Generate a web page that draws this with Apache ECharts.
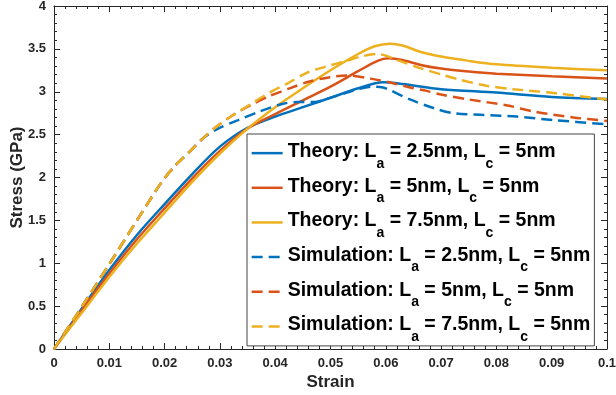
<!DOCTYPE html>
<html>
<head>
<meta charset="utf-8">
<script src="https://cdn.jsdelivr.net/npm/echarts@6/dist/echarts.min.js"></script>
<style>
  html, body { margin: 0; padding: 0; background: #ffffff; }
  #chart { width: 616px; height: 395px; }
</style>
</head>
<body>
<div id="chart"></div>
<script>
// Stress-strain curves: analytical theory (solid) vs. MD simulation (dashed)
const strainT1 = [0, 0.005, 0.01, 0.015, 0.02, 0.025, 0.03, 0.035, 0.04, 0.045, 0.05, 0.055, 0.0595, 0.063, 0.07, 0.08, 0.09, 0.1];
const stressT1 = [0, 0.47, 0.92, 1.33, 1.69, 2.04, 2.36, 2.58, 2.71, 2.82, 2.93, 3.04, 3.11, 3.09, 3.03, 2.99, 2.94, 2.915];

const strainT2 = [0, 0.005, 0.01, 0.015, 0.02, 0.025, 0.03, 0.035, 0.04, 0.045, 0.05, 0.055, 0.0585, 0.0605, 0.063, 0.0665, 0.07, 0.075, 0.08, 0.09, 0.1];
const stressT2 = [0, 0.45, 0.88, 1.28, 1.64, 1.99, 2.31, 2.57, 2.74, 2.90, 3.06, 3.24, 3.36, 3.39, 3.37, 3.31, 3.27, 3.235, 3.21, 3.18, 3.155];

const strainT3 = [0, 0.005, 0.01, 0.015, 0.02, 0.025, 0.03, 0.035, 0.04, 0.045, 0.05, 0.055, 0.058, 0.0607, 0.063, 0.0665, 0.07, 0.075, 0.08, 0.09, 0.1];
const stressT3 = [0, 0.42, 0.84, 1.23, 1.59, 1.95, 2.28, 2.57, 2.82, 3.04, 3.25, 3.44, 3.53, 3.56, 3.54, 3.46, 3.41, 3.36, 3.32, 3.28, 3.25];

const strainS1 = [0, 0.005, 0.01, 0.015, 0.0194, 0.0218, 0.0245, 0.027, 0.0297, 0.0333, 0.0372, 0.0414, 0.044, 0.047, 0.0505, 0.0535, 0.0574, 0.0595, 0.0607, 0.0644, 0.0686, 0.0722, 0.0777, 0.0837, 0.0903, 0.1];
const stressS1 = [0, 0.49, 0.99, 1.5, 1.94, 2.13, 2.30, 2.46, 2.57, 2.67, 2.77, 2.86, 2.88, 2.88, 2.94, 3.0, 3.06, 3.05, 3.02, 2.91, 2.81, 2.75, 2.73, 2.71, 2.67, 2.62];

const strainS2 = [0, 0.005, 0.01, 0.015, 0.0194, 0.0218, 0.0245, 0.027, 0.0297, 0.0327, 0.0357, 0.039, 0.0426, 0.0462, 0.0499, 0.053, 0.0575, 0.0613, 0.0644, 0.0674, 0.0698, 0.075, 0.082, 0.0867, 0.0939, 0.1];
const stressS2 = [0, 0.49, 0.99, 1.5, 1.94, 2.13, 2.30, 2.46, 2.61, 2.74, 2.85, 2.95, 3.04, 3.12, 3.17, 3.19, 3.15, 3.10, 3.05, 3.01, 2.97, 2.91, 2.84, 2.77, 2.70, 2.66];

const strainS3 = [0, 0.005, 0.01, 0.015, 0.0194, 0.0218, 0.0245, 0.027, 0.0297, 0.0327, 0.0357, 0.039, 0.042, 0.0457, 0.049, 0.0529, 0.0555, 0.0585, 0.0625, 0.0665, 0.0704, 0.0734, 0.0782, 0.0831, 0.0897, 0.1];
const stressS3 = [0, 0.49, 0.99, 1.5, 1.94, 2.13, 2.30, 2.46, 2.61, 2.74, 2.86, 2.99, 3.09, 3.22, 3.29, 3.36, 3.41, 3.44, 3.36, 3.27, 3.195, 3.14, 3.07, 3.03, 2.99, 2.91];

const seriesNames = [
  'Theory: L_a = 2.5nm, L_c = 5nm',
  'Theory: L_a = 5nm, L_c = 5nm',
  'Theory: L_a = 7.5nm, L_c = 5nm',
  'Simulation: L_a = 2.5nm, L_c = 5nm',
  'Simulation: L_a = 5nm, L_c = 5nm',
  'Simulation: L_a = 7.5nm, L_c = 5nm'
];
const xTicks = { min: 0, max: 0.1, interval: 0.01 };
const yTicks = { min: 0, max: 4, interval: 0.5 };

const colors = ['#0072BD', '#D95319', '#EDB120'];
const FONT = '"Liberation Sans", Arial, Helvetica, sans-serif';
const AXIS_COLOR = '#262626';
const DASH = [11, 6];

function pairs(xs, ys) { return xs.map((x, i) => [x, ys[i]]); }

const curves = [
  { x: strainT1, y: stressT1, color: colors[0], dashed: false },
  { x: strainT2, y: stressT2, color: colors[1], dashed: false },
  { x: strainT3, y: stressT3, color: colors[2], dashed: false },
  { x: strainS1, y: stressS1, color: colors[0], dashed: true },
  { x: strainS2, y: stressS2, color: colors[1], dashed: true },
  { x: strainS3, y: stressS3, color: colors[2], dashed: true }
];

const series = curves.map((c, i) => ({
  name: seriesNames[i],
  type: 'line',
  xAxisIndex: 0,
  yAxisIndex: 0,
  data: pairs(c.x, c.y),
  symbol: 'none',
  smooth: 0.3,
  color: c.color,
  lineStyle: { color: c.color, width: 2.5, type: c.dashed ? DASH : 'solid' },
  z: 2 + i
}));

function boxAxis(base, position, showLabel) {
  return Object.assign({
    type: 'value',
    position: position,
    splitLine: { show: false },
    nameMoveOverlap: false,
    axisLine: { show: true, onZero: false, lineStyle: { color: AXIS_COLOR, width: 1 } },
    axisTick: { show: true, inside: true, length: 6, lineStyle: { color: AXIS_COLOR, width: 1 } },
    minorTick: { show: true, splitNumber: 5, length: 3, lineStyle: { color: AXIS_COLOR, width: 1 } },
    axisLabel: {
      show: showLabel, color: AXIS_COLOR, fontFamily: FONT, fontWeight: 'bold', fontSize: 13,
      margin: 8, hideOverlap: false, showMinLabel: true, showMaxLabel: true
    }
  }, base);
}

// Legend labels with subscripted a / c
function legendText(name) {
  return '{n|' + name.replace('L_a', 'L}{s|a}{n|').replace('L_c', 'L}{s|c}{n|') + '}';
}

const chart = echarts.init(document.getElementById('chart'), null, { renderer: 'canvas' });
chart.setOption({
  animation: false,
  backgroundColor: '#ffffff',
  grid: { left: 54, right: 9, top: 6, bottom: 46, outerBoundsMode: 'none' },
  xAxis: [
    boxAxis(Object.assign({}, xTicks, {
      name: 'Strain', nameLocation: 'middle', nameGap: 25,
      nameTextStyle: { color: AXIS_COLOR, fontFamily: FONT, fontWeight: 'bold', fontSize: 17 }
    }), 'bottom', true),
    boxAxis(Object.assign({}, xTicks), 'top', false)
  ],
  yAxis: [
    boxAxis(Object.assign({}, yTicks, {
      name: 'Stress (GPa)', nameLocation: 'middle', nameGap: 28, nameRotate: 90,
      nameTextStyle: { color: AXIS_COLOR, fontFamily: FONT, fontWeight: 'bold', fontSize: 17 }
    }), 'left', true),
    boxAxis(Object.assign({}, yTicks), 'right', false)
  ],
  legend: {
    orient: 'vertical',
    left: 247,
    top: 134,
    padding: [2, 4, 2, 3],
    itemWidth: 31,
    itemHeight: 42.875,
    itemGap: 0,
    backgroundColor: '#ffffff',
    borderColor: '#444444',
    borderWidth: 1,
    borderRadius: 0,
    selectedMode: false,
    lineStyle: { width: 2.5 },
    itemStyle: { opacity: 0, color: 'rgba(0,0,0,0)', borderWidth: 0 },
    formatter: legendText,
    textStyle: {
      fontFamily: FONT, fontWeight: 'bold', fontSize: 19.5, color: '#000000', lineHeight: 22,
      rich: {
        n: { fontFamily: FONT, fontWeight: 'bold', fontSize: 19.5, color: '#000000', lineHeight: 22, height: 19, verticalAlign: 'top' },
        s: { fontFamily: FONT, fontWeight: 'bold', fontSize: 14, color: '#000000', lineHeight: 22, height: 1, verticalAlign: 'bottom' }
      }
    },
    data: seriesNames
  },
  series: series
});
</script>
</body>
</html>
